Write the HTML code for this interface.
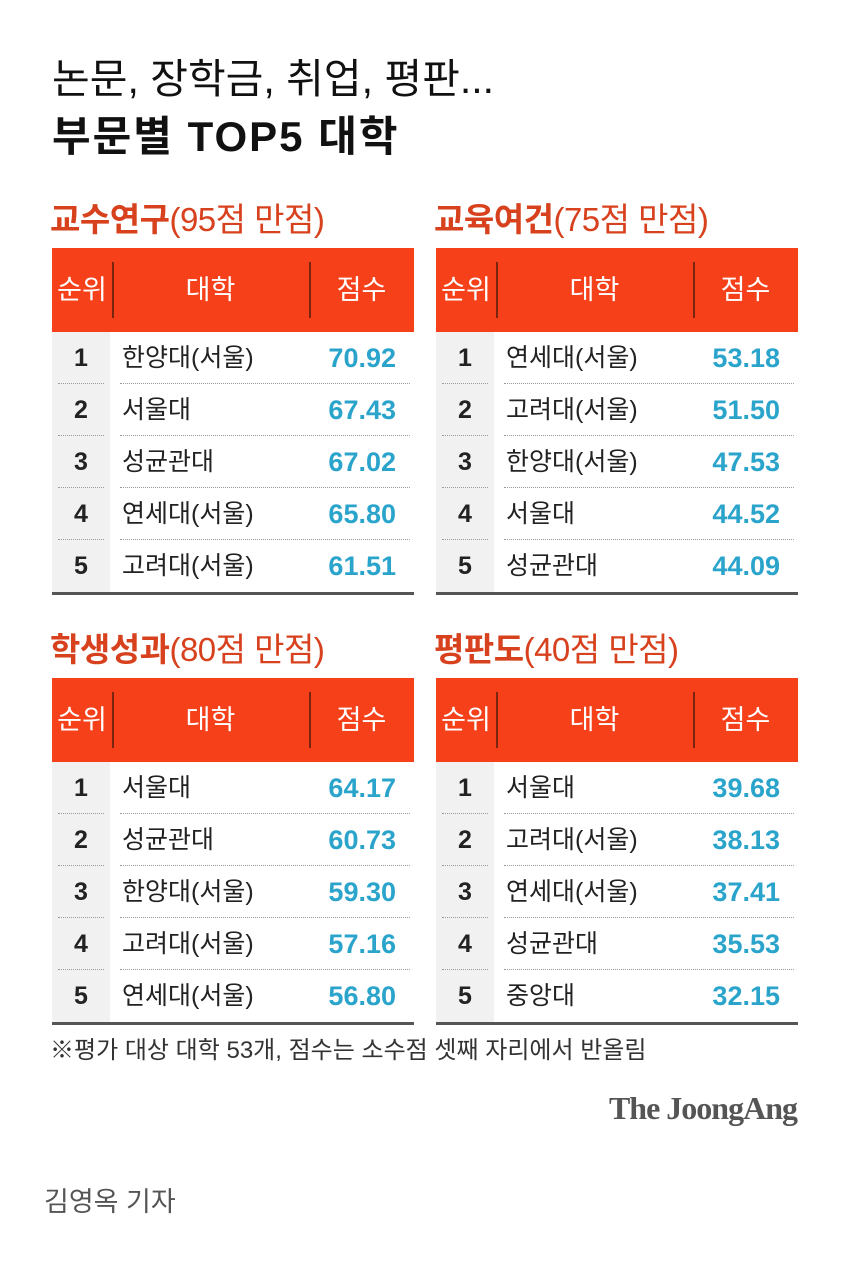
<!DOCTYPE html>
<html><head><meta charset="utf-8"><style>
*{margin:0;padding:0;box-sizing:border-box}
body{width:850px;height:1272px;background:#fff;position:relative;font-family:"Liberation Sans","Noto Sans CJK KR",sans-serif;overflow:hidden}
.a{position:absolute;white-space:nowrap}
.t1{left:52px;top:54px;font-size:41px;line-height:50px;color:#111;letter-spacing:0px}
.t2{left:52px;top:112px;font-size:42px;line-height:50px;font-weight:bold;color:#111;letter-spacing:2px}
.st{font-size:33px;line-height:40px;color:#d8411d;letter-spacing:-0.5px}
.st b{font-weight:bold}
.st span{font-weight:normal}
.tb{width:362px}
.hd{height:84px;background:#f5401a;position:relative;color:#fff;font-size:27px}
.hd div{position:absolute;top:0;height:84px;line-height:84px;text-align:center}
.hd .v{position:absolute;top:14px;width:2px;height:56px;background:#7a2510}
.row{height:52px;position:relative;font-size:25px}
.row .r{position:absolute;left:0;width:58px;height:52px;background:#f1f1f1;text-align:center;line-height:52px;font-weight:bold;color:#222}
.row .n{position:absolute;left:70px;line-height:52px;color:#222}
.row .s{position:absolute;right:18px;line-height:52px;color:#2ba4cc;font-weight:bold;font-size:27px}
.row .d1{position:absolute;left:6px;width:46px;bottom:0;border-bottom:1px dotted #999}
.row .d2{position:absolute;left:68px;right:4px;bottom:0;border-bottom:1px dotted #999}
.bl{height:3px;background:#555}
</style></head><body>
<div class="a t1">논문, 장학금, 취업, 평판...</div>
<div class="a t2">부문별 TOP5 대학</div>

<div class="a st" style="left:50px;top:200px"><b>교수연구</b><span>(95점 만점)</span></div>
<div class="a st" style="left:434px;top:200px"><b>교육여건</b><span>(75점 만점)</span></div>
<div class="a st" style="left:50px;top:630px"><b>학생성과</b><span>(80점 만점)</span></div>
<div class="a st" style="left:434px;top:630px"><b>평판도</b><span>(40점 만점)</span></div>

<div class="a tb" style="left:52px;top:248px">
<div class="hd"><div style="left:0;width:60px">순위</div><span class="v" style="left:60px"></span><div style="left:60px;width:197px">대학</div><span class="v" style="left:257px"></span><div style="left:257px;width:105px">점수</div></div>
<div class="row"><div class="r">1</div><div class="n">한양대(서울)</div><div class="s">70.92</div><i class="d1"></i><i class="d2"></i></div>
<div class="row"><div class="r">2</div><div class="n">서울대</div><div class="s">67.43</div><i class="d1"></i><i class="d2"></i></div>
<div class="row"><div class="r">3</div><div class="n">성균관대</div><div class="s">67.02</div><i class="d1"></i><i class="d2"></i></div>
<div class="row"><div class="r">4</div><div class="n">연세대(서울)</div><div class="s">65.80</div><i class="d1"></i><i class="d2"></i></div>
<div class="row"><div class="r">5</div><div class="n">고려대(서울)</div><div class="s">61.51</div></div>
<div class="bl"></div>
</div>

<div class="a tb" style="left:436px;top:248px">
<div class="hd"><div style="left:0;width:60px">순위</div><span class="v" style="left:60px"></span><div style="left:60px;width:197px">대학</div><span class="v" style="left:257px"></span><div style="left:257px;width:105px">점수</div></div>
<div class="row"><div class="r">1</div><div class="n">연세대(서울)</div><div class="s">53.18</div><i class="d1"></i><i class="d2"></i></div>
<div class="row"><div class="r">2</div><div class="n">고려대(서울)</div><div class="s">51.50</div><i class="d1"></i><i class="d2"></i></div>
<div class="row"><div class="r">3</div><div class="n">한양대(서울)</div><div class="s">47.53</div><i class="d1"></i><i class="d2"></i></div>
<div class="row"><div class="r">4</div><div class="n">서울대</div><div class="s">44.52</div><i class="d1"></i><i class="d2"></i></div>
<div class="row"><div class="r">5</div><div class="n">성균관대</div><div class="s">44.09</div></div>
<div class="bl"></div>
</div>

<div class="a tb" style="left:52px;top:678px">
<div class="hd"><div style="left:0;width:60px">순위</div><span class="v" style="left:60px"></span><div style="left:60px;width:197px">대학</div><span class="v" style="left:257px"></span><div style="left:257px;width:105px">점수</div></div>
<div class="row"><div class="r">1</div><div class="n">서울대</div><div class="s">64.17</div><i class="d1"></i><i class="d2"></i></div>
<div class="row"><div class="r">2</div><div class="n">성균관대</div><div class="s">60.73</div><i class="d1"></i><i class="d2"></i></div>
<div class="row"><div class="r">3</div><div class="n">한양대(서울)</div><div class="s">59.30</div><i class="d1"></i><i class="d2"></i></div>
<div class="row"><div class="r">4</div><div class="n">고려대(서울)</div><div class="s">57.16</div><i class="d1"></i><i class="d2"></i></div>
<div class="row"><div class="r">5</div><div class="n">연세대(서울)</div><div class="s">56.80</div></div>
<div class="bl"></div>
</div>

<div class="a tb" style="left:436px;top:678px">
<div class="hd"><div style="left:0;width:60px">순위</div><span class="v" style="left:60px"></span><div style="left:60px;width:197px">대학</div><span class="v" style="left:257px"></span><div style="left:257px;width:105px">점수</div></div>
<div class="row"><div class="r">1</div><div class="n">서울대</div><div class="s">39.68</div><i class="d1"></i><i class="d2"></i></div>
<div class="row"><div class="r">2</div><div class="n">고려대(서울)</div><div class="s">38.13</div><i class="d1"></i><i class="d2"></i></div>
<div class="row"><div class="r">3</div><div class="n">연세대(서울)</div><div class="s">37.41</div><i class="d1"></i><i class="d2"></i></div>
<div class="row"><div class="r">4</div><div class="n">성균관대</div><div class="s">35.53</div><i class="d1"></i><i class="d2"></i></div>
<div class="row"><div class="r">5</div><div class="n">중앙대</div><div class="s">32.15</div></div>
<div class="bl"></div>
</div>

<div class="a" style="left:50px;top:1036px;font-size:24px;line-height:30px;color:#333;letter-spacing:0px">※평가 대상 대학 53개, 점수는 소수점 셋째 자리에서 반올림</div>
<div class="a" style="right:53px;top:1088px;font-family:'Liberation Serif',serif;font-weight:bold;font-size:32px;line-height:40px;color:#555;letter-spacing:-1px">The JoongAng</div>
<div class="a" style="left:44px;top:1185px;font-size:27px;line-height:34px;color:#555">김영옥 기자</div>
</body></html>
